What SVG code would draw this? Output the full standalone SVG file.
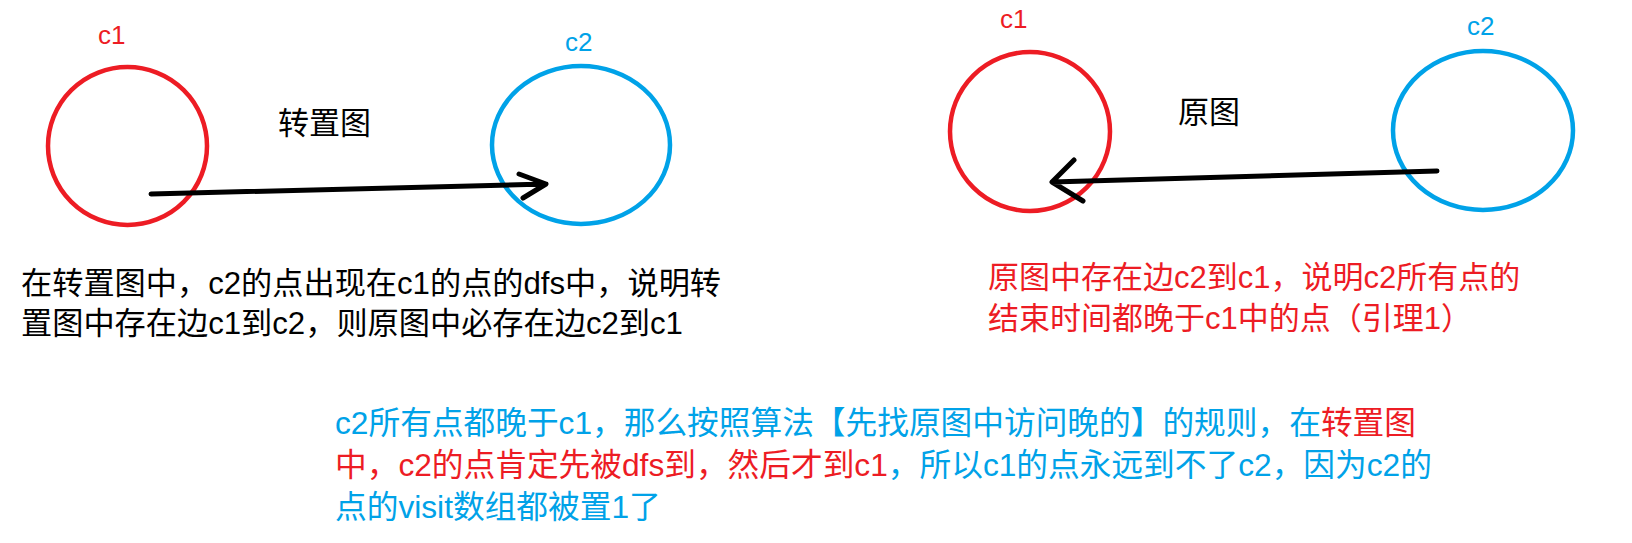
<svg xmlns="http://www.w3.org/2000/svg" width="1632" height="543" viewBox="0 0 1632 543">
<style>
  .bg { fill: #ffffff; }
  .red { fill: none; stroke: #ED1C24; stroke-width: 4.5; }
  .blue { fill: none; stroke: #00A2E8; stroke-width: 4.5; }
  .lbl { font-family: "Liberation Sans", "Noto Sans CJK SC", sans-serif; font-size: 26px; }
  .t { font-family: "Liberation Sans", "Noto Sans CJK SC", sans-serif; font-size: 31px; }
  .tl { font-size: 31.2px; }
  .tb { font-size: 31.7px; }
  .cr { fill: #ED1C24; }
  .cb { fill: #00A2E8; }
  .ck { fill: #000000; }
  .arrow { fill: none; stroke: #000000; stroke-width: 5; stroke-linecap: round; stroke-linejoin: round; }
</style>
<rect class="bg" x="0" y="0" width="1632" height="543"/>

<g id="left-c1">
  <ellipse class="red" cx="127.5" cy="146" rx="79.5" ry="79"/>
  <text class="lbl cr" x="98" y="44">c1</text>
</g>
<g id="left-c2">
  <ellipse class="blue" cx="581" cy="145" rx="89" ry="79"/>
  <text class="lbl cb" x="565" y="51">c2</text>
</g>
<g id="right-c1">
  <ellipse class="red" cx="1030" cy="131.5" rx="80" ry="79.5"/>
  <text class="lbl cr" x="1000" y="28">c1</text>
</g>
<g id="right-c2">
  <ellipse class="blue" cx="1483" cy="130.5" rx="90" ry="79.5"/>
  <text class="lbl cb" x="1467" y="35">c2</text>
</g>

<g id="connectors">
  <path class="arrow" d="M151,194 L546,184 M519,174 L546,184 L523,198"/>
  <path class="arrow" d="M1437,171 L1052,182 M1074,160 L1052,182 L1083,201"/>
</g>

<g id="titles">
  <text class="t ck" x="278" y="134">转置图</text>
  <text class="t ck" x="1178" y="123">原图</text>
</g>

<g id="note-left">
  <text class="t tl ck" x="21" y="294">在转置图中，c2的点出现在c1的点的dfs中，说明转</text>
  <text class="t tl ck" x="21" y="334">置图中存在边c1到c2，则原图中必存在边c2到c1</text>
</g>

<g id="note-right">
  <text class="t cr" x="988" y="288">原图中存在边c2到c1，说明c2所有点的</text>
  <text class="t cr" x="988" y="329">结束时间都晚于c1中的点（引理1）</text>
</g>

<g id="note-bottom">
  <text class="t tb" x="335" y="434"><tspan class="cb">c2所有点都晚于c1，那么按照算法【先找原图中访问晚的】的规则，在</tspan><tspan class="cr">转置图</tspan></text>
  <text class="t tb" x="335" y="476"><tspan class="cr">中，c2的点肯定先被dfs到，然后才到c1</tspan><tspan class="cb">，所以c1的点永远到不了c2，因为c2的</tspan></text>
  <text class="t tb cb" x="335" y="518">点的visit数组都被置1了</text>
</g>
</svg>
